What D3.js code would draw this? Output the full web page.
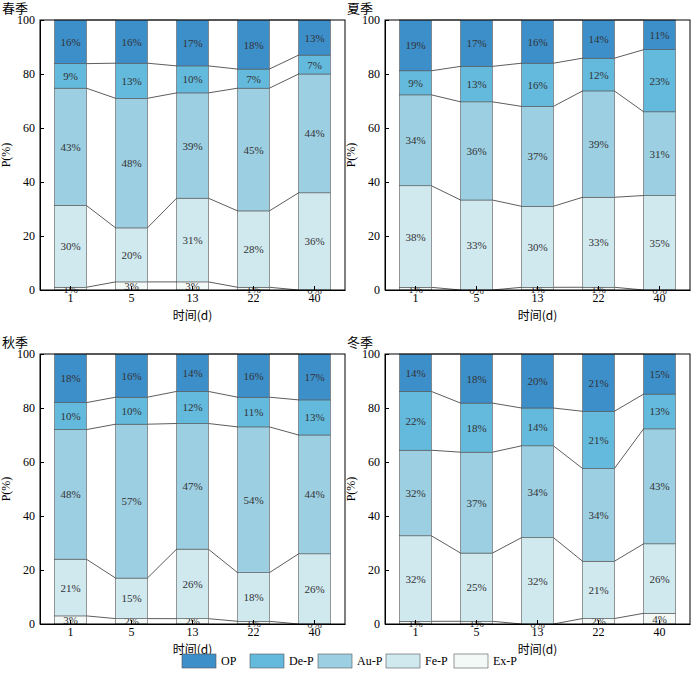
<!DOCTYPE html>
<html><head><meta charset="utf-8">
<script src="https://cdn.jsdelivr.net/npm/d3@7"></script>
<style>
body{margin:0;background:#fff;}
svg text{font-family:"Times New Roman","Liberation Serif","DejaVu Serif",serif;}
svg text.cn{font-family:"Noto Sans CJK SC",sans-serif;}
</style></head><body>
<div id="chart"></div>
<script>
var days = ["1","5","13","22","40"];
var keys = ["Ex-P","Fe-P","Au-P","De-P","OP"];
var legendKeys = ["OP","De-P","Au-P","Fe-P","Ex-P"];
var colors = {"OP":"#3d8fca","De-P":"#63badd","Au-P":"#9ccfe1","Fe-P":"#cfe9ef","Ex-P":"#f2f9f7"};
var seasons = ["春季","夏季","秋季","冬季"];
var OP   = [[16,16,17,18,13],[19,17,16,14,11],[18,16,14,16,17],[14,18,20,21,15]];
var DeP  = [[9,13,10,7,7],[9,13,16,12,23],[10,10,12,11,13],[22,18,14,21,13]];
var AuP  = [[43,48,39,45,44],[34,36,37,39,31],[48,57,47,54,44],[32,37,34,34,43]];
var FeP  = [[30,20,31,28,36],[38,33,30,33,35],[21,15,26,18,26],[32,25,32,21,26]];
var ExP  = [[1,3,3,1,0],[1,0,1,1,0],[3,2,2,1,0],[1,1,0,2,4]];
var yTicks = [0,20,40,60,80,100];

var W = 700, H = 696;
var svg = d3.select("#chart").append("svg").attr("width", W).attr("height", H);
var panels = [{x:40,y:20},{x:385,y:20},{x:40,y:354},{x:385,y:354}];
var pw = 305, ph = 270;

panels.forEach(function(p, si) {
  var rows = days.map(function(d, i) {
    return {day:d, "OP":OP[si][i], "De-P":DeP[si][i], "Au-P":AuP[si][i], "Fe-P":FeP[si][i], "Ex-P":ExP[si][i]};
  });
  var series = d3.stack().keys(keys).offset(d3.stackOffsetExpand)(rows);
  var x = d3.scaleBand().domain(days).range([0, pw]).paddingInner(0.48).paddingOuter(0.24);
  var y = d3.scaleLinear().domain([0, 100]).range([ph, 0]);
  var g = svg.append("g").attr("transform", "translate(" + p.x + "," + p.y + ")");

  // connecting lines
  series.forEach(function(s) {
    for (var i = 0; i < days.length - 1; i++) {
      g.append("line")
        .attr("x1", x(days[i]) + x.bandwidth()).attr("y1", y(s[i][1] * 100))
        .attr("x2", x(days[i + 1])).attr("y2", y(s[i + 1][1] * 100))
        .attr("stroke", "#333").attr("stroke-width", 0.8);
    }
  });

  series.forEach(function(s) {
    g.selectAll(null).data(s).enter().append("rect")
      .attr("x", function(d, i) { return x(days[i]); })
      .attr("y", function(d) { return y(d[1] * 100); })
      .attr("width", x.bandwidth())
      .attr("height", function(d) { return y(d[0] * 100) - y(d[1] * 100); })
      .attr("fill", colors[s.key]).attr("stroke", "#555").attr("stroke-width", 0.6);
    g.selectAll(null).data(s).enter().append("text")
      .attr("x", function(d, i) { return x(days[i]) + x.bandwidth() / 2; })
      .attr("y", function(d) { return y((d[0] + d[1]) * 50) + 4; })
      .attr("text-anchor", "middle").attr("font-size", 11).attr("fill", "#333")
      .text(function(d) { return d.data[s.key] + "%"; });
  });

  g.append("g").attr("transform", "translate(0," + ph + ")")
    .call(d3.axisBottom(x).tickSizeInner(-4).tickSizeOuter(0).tickPadding(3))
    .call(function(a) { a.selectAll("text").attr("font-size", 12).attr("fill", "#000"); });
  g.append("g").call(d3.axisLeft(y).tickValues(yTicks).tickSizeInner(-4).tickSizeOuter(0).tickPadding(5))
    .call(function(a) { a.selectAll("text").attr("font-size", 12).attr("fill", "#000"); });
  g.append("rect").attr("width", pw).attr("height", ph).attr("fill", "none").attr("stroke", "#000");

  g.append("text").attr("class", "cn").attr("x", -38).attr("y", -7).attr("font-size", 13).text(seasons[si]);
  g.append("text").attr("class", "cn").attr("x", pw / 2).attr("y", ph + 30).attr("text-anchor", "middle").attr("font-size", 12).text("时间(d)");
  g.append("text").attr("transform", "translate(-30," + ph / 2 + ") rotate(-90)").attr("text-anchor", "middle").attr("font-size", 12).text("P(%)");
});

var lg = svg.append("g").attr("transform", "translate(182,654)");
legendKeys.forEach(function(k, i) {
  var item = lg.append("g").attr("transform", "translate(" + i * 68 + ",0)");
  item.append("rect").attr("width", 34).attr("height", 14).attr("fill", colors[k]).attr("stroke", "#555").attr("stroke-width", 0.6);
  item.append("text").attr("x", 39).attr("y", 11).attr("font-size", 12).text(k);
});
</script>
</body></html>
